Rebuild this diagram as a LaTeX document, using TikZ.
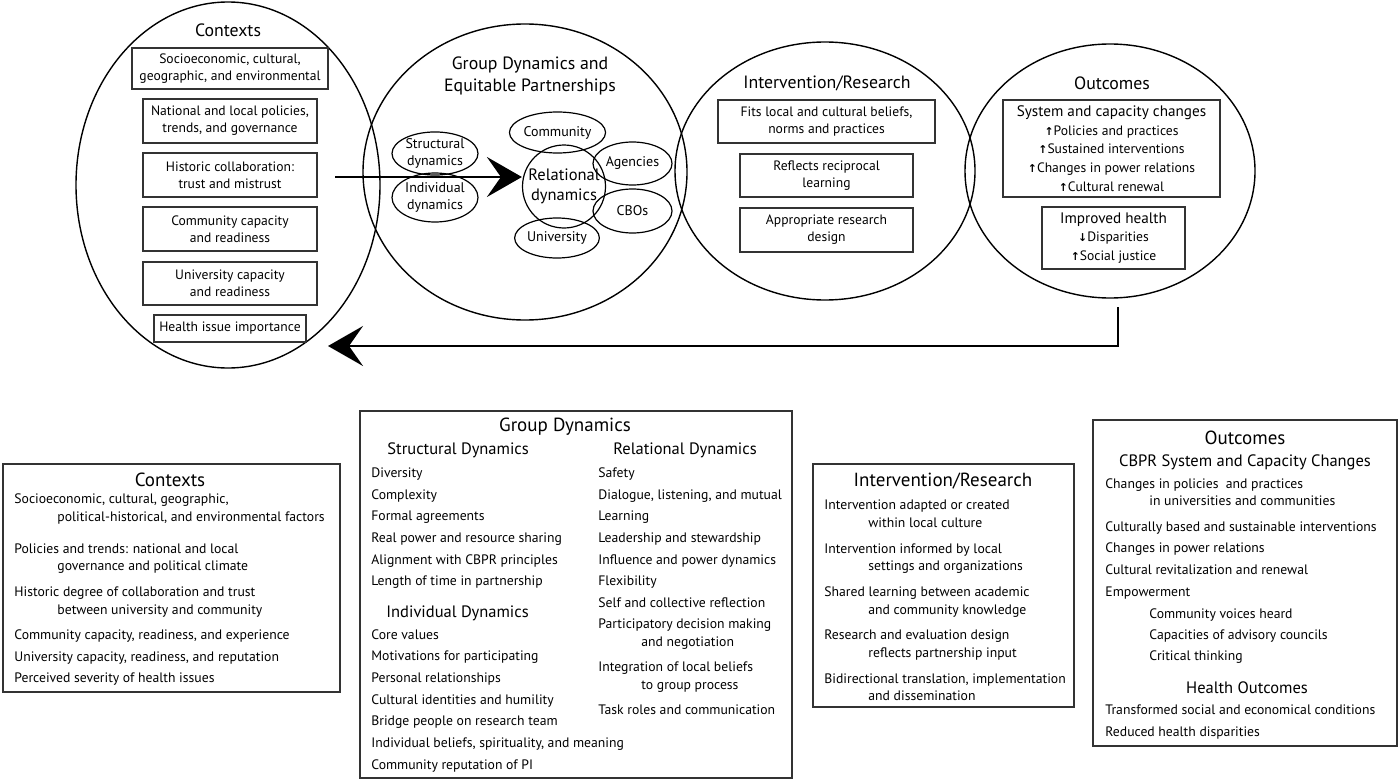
\documentclass[tikz,border=0pt]{standalone}
\usepackage{fontspec}
\setmainfont{PT Sans}
\newfontfamily\symf{DejaVu Sans}
\usetikzlibrary{shapes.geometric,arrows.meta}
\newlength\upx \setlength\upx{0.5pt}
\newcommand\upar{{\symf\bfseries\scalebox{0.8}{↑}}}
\newcommand\dnar{{\symf\bfseries\scalebox{0.8}{↓}}}
\newcommand\hd[1]{{\fontsize{7.6}{9.35}\selectfont #1}}
\newcommand\itm[3]{\node[item] (#1) at (#2) {#3};}
\begin{document}
\begin{tikzpicture}[x=0.5pt,y=-0.5pt,
  big/.style={ellipse, draw, line width=0.7pt, inner sep=0},
  sm/.style={ellipse, draw, line width=0.6pt, inner sep=0, align=center, font=\fontsize{7}{8.8}\selectfont},
  tbox/.style={draw=black!80, line width=0.65pt, inner sep=0, align=center, font=\fontsize{6.8}{8.6}\selectfont},
  obox/.style={draw=black!80, line width=0.65pt, inner sep=0, align=center, font=\fontsize{6.8}{9.35}\selectfont},
  ttl/.style={inner sep=0, align=center, font=\fontsize{8.9}{11}\selectfont},
  bttl/.style={inner sep=0, font=\fontsize{9.5}{11}\selectfont},
  sub/.style={inner sep=0, font=\fontsize{8.25}{10}\selectfont, text height=0.85em, text depth=0.2em},
  lbox/.style={draw=black!80, line width=0.65pt, inner sep=0},
  item/.style={anchor=west, inner sep=0, font=\fontsize{6.85}{8}\selectfont, text height=0.85em, text depth=0.2em},
  flow/.style={line width=1.2pt, -{Stealth[length=17.5pt, width=20pt, inset=7pt]}}
]
\path[use as bounding box] (0,0) rectangle (1400,781);

% ---------- top: big ellipses ----------
\node[big, minimum width=304\upx, minimum height=366\upx] (ctxE) at (228,185) {};
\node[big, minimum width=324\upx, minimum height=296\upx] (gdE) at (525,172) {};
\node[big, minimum width=300\upx, minimum height=258\upx] (irE) at (825,171) {};
\node[big, minimum width=290\upx, minimum height=254\upx] (ocE) at (1110,171) {};

% Contexts
\node[ttl] (ctxT) at (228,30) {Contexts};
\node[tbox, minimum width=196\upx, minimum height=41\upx] (cb1) at (230,68.5) {Socioeconomic, cultural,\\geographic, and environmental};
\node[tbox, minimum width=174\upx, minimum height=44\upx] (cb2) at (230,121) {National and local policies,\\trends, and governance};
\node[tbox, minimum width=174\upx, minimum height=44\upx] (cb3) at (230,175) {Historic collaboration:\\trust and mistrust};
\node[tbox, minimum width=174\upx, minimum height=44\upx] (cb4) at (230,229) {Community capacity\\and readiness};
\node[tbox, minimum width=174\upx, minimum height=43\upx] (cb5) at (230,283.5) {University capacity\\and readiness};
\node[tbox, minimum width=152\upx, minimum height=27\upx] (cb6) at (230,328.5) {Health issue importance};

% Group dynamics
\node[ttl] (gdT) at (530,76) {Group Dynamics and\\Equitable Partnerships};
\node[sm, minimum width=86\upx, minimum height=43\upx] (sdE) at (435,153.5) {Structural\\dynamics};
\node[sm, minimum width=86\upx, minimum height=49\upx] (idE) at (435,197.5) {Individual\\dynamics};
\node[sm, minimum width=79\upx, minimum height=41\upx] (comE) at (557.5,132.5) {Community};
\node[sm, minimum width=79\upx, minimum height=43\upx] (agE) at (632.5,163.5) {Agencies};
\node[sm, minimum width=79\upx, minimum height=44\upx] (cboE) at (632.5,211) {CBOs};
\node[sm, minimum width=80\upx, minimum height=40\upx] (uniE) at (557,238) {University};
\node[sm, circle, minimum size=83\upx, font=\fontsize{8.25}{10}\selectfont] (relE) at (564,186.5) {Relational\\dynamics};

% Intervention / research
\node[ttl] (irT) at (827,83) {Intervention/Research};
\node[tbox, minimum width=217\upx, minimum height=43\upx] (ib1) at (826.5,121.5) {Fits local and cultural beliefs,\\norms and practices};
\node[tbox, minimum width=173\upx, minimum height=43\upx] (ib2) at (826.5,175.5) {Reflects reciprocal\\learning};
\node[tbox, minimum width=173\upx, minimum height=44\upx] (ib3) at (826.5,230) {Appropriate research\\design};

% Outcomes
\node[ttl] (ocT) at (1112,83) {Outcomes};
\node[obox, minimum width=217\upx, minimum height=97\upx] (ob1) at (1111.5,148.5) {\hd{System and capacity changes}\\\upar Policies and practices\\\upar Sustained interventions\\\upar Changes in power relations\\\upar Cultural renewal};
\node[obox, minimum width=143\upx, minimum height=62\upx] (ob2) at (1113.5,238) {\hd{Improved health}\\\dnar Disparities\\\upar Social justice};

% arrows
\coordinate (aStart) at (335,177);
\draw[flow] (aStart) -- (aStart -| relE.west);
\coordinate (bStart) at (1118,307);
\coordinate (bEnd) at (328,346);
\draw[flow] (bStart) |- (bEnd);

% ---------- bottom: Contexts box ----------
\node[lbox, minimum width=337\upx, minimum height=228\upx] (ctxB) at (171.5,578) {};
\node[bttl] (ctxBT) at (170,480) {Contexts};
\itm{c1}{14,497}{Socioeconomic, cultural, geographic,}
\itm{c2}{57,515}{political-historical, and environmental factors}
\itm{c3}{14,547}{Policies and trends: national and local}
\itm{c4}{57,564}{governance and political climate}
\itm{c5}{14,590}{Historic degree of collaboration and trust}
\itm{c6}{57,608}{between university and community}
\itm{c7}{14,633}{Community capacity, readiness, and experience}
\itm{c8}{14,655}{University capacity, readiness, and reputation}
\itm{c9}{14,676}{Perceived severity of health issues}

% ---------- bottom: Group dynamics box ----------
\node[lbox, minimum width=432\upx, minimum height=367\upx] (gdB) at (576,594.5) {};
\node[bttl] (gdBT) at (565,427) {Group Dynamics};
\node[sub, anchor=west] (sdH) at (387,448) {Structural Dynamics};
\node[sub, anchor=west] (rdH) at (613,448) {Relational Dynamics};
\itm{s1}{371,471}{Diversity}
\itm{s2}{371,493}{Complexity}
\itm{s3}{371,514}{Formal agreements}
\itm{s4}{371,536}{Real power and resource sharing}
\itm{s5}{371,558}{Alignment with CBPR principles}
\itm{s6}{371,579}{Length of time in partnership}
\node[sub, anchor=west] (idH) at (386,611) {Individual Dynamics};
\itm{i1}{371,633}{Core values}
\itm{i2}{371,654}{Motivations for participating}
\itm{i3}{371,676}{Personal relationships}
\itm{i4}{371,698}{Cultural identities and humility}
\itm{i5}{371,719}{Bridge people on research team}
\itm{i6}{371,741}{Individual beliefs, spirituality, and meaning}
\itm{i7}{371,763}{Community reputation of PI}
\itm{r1}{598,471}{Safety}
\itm{r2}{598,493}{Dialogue, listening, and mutual}
\itm{r3}{598,514}{Learning}
\itm{r4}{598,536}{Leadership and stewardship}
\itm{r5}{598,558}{Influence and power dynamics}
\itm{r6}{598,579}{Flexibility}
\itm{r7}{598,601}{Self and collective reflection}
\itm{r8}{598,622}{Participatory decision making}
\itm{r9}{641,640}{and negotiation}
\itm{r10}{598,665}{Integration of local beliefs}
\itm{r11}{641,683}{to group process}
\itm{r12}{598,708}{Task roles and communication}

% ---------- bottom: Intervention box ----------
\node[lbox, minimum width=261\upx, minimum height=243\upx] (irB) at (943.5,585.5) {};
\node[bttl] (irBT) at (943,481) {Intervention/Research};
\itm{v1}{824,503}{Intervention adapted or created}
\itm{v2}{868,521}{within local culture}
\itm{v3}{824,547}{Intervention informed by local}
\itm{v4}{868,564}{settings and organizations}
\itm{v5}{824,590}{Shared learning between academic}
\itm{v6}{868,608}{and community knowledge}
\itm{v7}{824,633}{Research and evaluation design}
\itm{v8}{868,651}{reflects partnership input}
\itm{v9}{824,677}{Bidirectional translation, implementation}
\itm{v10}{868,694}{and dissemination}

% ---------- bottom: Outcomes box ----------
\node[lbox, minimum width=304\upx, minimum height=326\upx] (ocB) at (1245,583) {};
\node[bttl] (ocBT) at (1245,438) {Outcomes};
\node[sub] (cbprH) at (1245,460) {CBPR System and Capacity Changes};
\itm{o1}{1105,482}{Changes in policies\ \ and practices}
\itm{o2}{1149,499}{in universities and communities}
\itm{o3}{1105,525}{Culturally based and sustainable interventions}
\itm{o4}{1105,546}{Changes in power relations}
\itm{o5}{1105,568}{Cultural revitalization and renewal}
\itm{o6}{1105,590}{Empowerment}
\itm{o7}{1149,612}{Community voices heard}
\itm{o8}{1149,633}{Capacities of advisory councils}
\itm{o9}{1149,654}{Critical thinking}
\node[sub] (hoH) at (1247,687) {Health Outcomes};
\itm{o10}{1105,708}{Transformed social and economical conditions}
\itm{o11}{1105,730}{Reduced health disparities}
\end{tikzpicture}
\end{document}
